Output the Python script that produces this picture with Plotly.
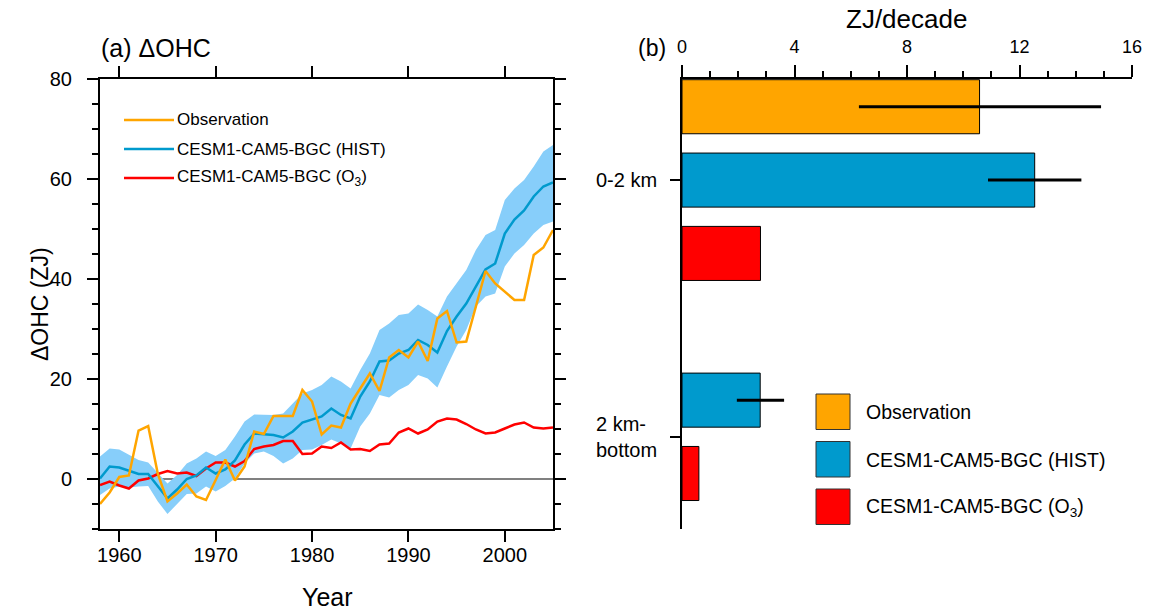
import plotly.graph_objects as go

# ---------------- data: panel (a) ----------------
years = list(range(1958, 2006))
obs_ohc = [-5.0, -2.7, 0.4, 0.7, 9.7, 10.6, 1.0, -4.5, -2.9, -1.1,
           -3.5, -4.2, -0.2, 3.9, -0.3, 2.5, 9.5, 9.0, 12.6, 12.6,
           12.6, 17.8, 15.5, 8.9, 10.7, 10.3, 15.1, 18.1, 21.1, 17.6,
           24.3, 25.8, 24.3, 27.5, 23.6, 32.1, 33.6, 27.3, 27.5, 34.5,
           41.6, 39.1, 37.5, 35.8, 35.8, 44.8, 46.3, 49.8]
hist_mean = [0.1, 2.5, 2.3, 1.7, 1.0, 1.0, -1.5, -3.9, -2.1, 0.0,
             0.7, 2.3, 1.1, 1.9, 3.7, 6.9, 9.1, 9.0, 8.8, 8.3,
             9.5, 11.3, 11.9, 12.5, 14.1, 12.8, 12.1, 16.5, 19.5, 23.5,
             23.7, 25.1, 25.8, 27.8, 26.8, 25.3, 29.6, 32.5, 35.1, 38.5,
             41.9, 43.1, 49.1, 51.9, 53.7, 56.5, 58.5, 59.3]
hist_upper = [4.5, 6.1, 5.9, 4.8, 3.8, 3.3, 1.1, -0.9, 0.8, 3.1,
              4.1, 5.5, 4.6, 5.8, 8.5, 11.5, 12.9, 12.9, 12.8, 13.1,
              15.1, 17.1, 17.8, 18.8, 20.5, 19.5, 18.1, 21.8, 25.1, 29.8,
              31.1, 32.8, 33.1, 34.9, 33.8, 32.5, 36.5, 39.1, 41.8, 45.8,
              48.8, 49.8, 55.8, 58.1, 59.8, 62.5, 65.5, 66.8]
hist_lower = [-3.2, -1.9, -1.5, -1.7, -1.5, -1.4, -4.5, -7.0, -5.0, -3.0,
              -2.9, -1.5, -2.5, -1.4, 0.1, 3.1, 5.1, 5.5, 4.6, 3.1,
              4.1, 5.8, 5.9, 6.8, 7.9, 7.1, 6.1, 10.5, 13.1, 16.8,
              16.3, 17.8, 18.8, 20.8, 20.1, 18.3, 22.5, 26.5, 29.8, 34.5,
              36.5, 37.1, 42.5, 45.1, 46.8, 49.1, 50.8, 51.5]
o3_ohc = [-1.2, -0.5, -1.3, -1.9, -0.3, 0.1, 1.0, 1.6, 1.1, 1.3,
          0.6, 2.1, 3.3, 3.3, 2.5, 3.6, 6.0, 6.5, 6.8, 7.6,
          7.6, 5.0, 5.1, 6.5, 6.2, 7.3, 5.9, 6.0, 5.6, 6.9,
          7.1, 9.3, 10.1, 9.1, 9.9, 11.5, 12.1, 11.9, 11.0, 9.9,
          9.1, 9.3, 10.1, 10.9, 11.3, 10.3, 10.1, 10.3]
year_ticks = [1960, 1970, 1980, 1990, 2000]
ohc_ticks = [0, 20, 40, 60, 80]

# ---------------- data: panel (b) ----------------
depth_groups = ["0-2 km", "2 km-<br>bottom"]
series_names = ["Observation", "CESM1-CAM5-BGC (HIST)", "CESM1-CAM5-BGC (O<sub>3</sub>)"]
trend_obs = [10.58, None]
trend_hist = [12.54, 2.78]
trend_o3 = [2.79, 0.60]
obs_lo = [6.29, None]
obs_hi = [14.90, None]
hist_lo = [10.88, 1.95]
hist_hi = [14.20, 3.63]
rate_ticks = [0, 4, 8, 12, 16]

# ---------------- styles ----------------
W, H = 1152, 612
FONT = "Liberation Sans, Arial, Helvetica, sans-serif"
C_OBS = "#FFA500"
C_HIST = "#009ACD"
C_BAND = "#87CEFA"
C_O3 = "#FF0000"
series_colors = [C_OBS, C_HIST, C_O3]


def px(x):
    return x / W


def py(y):
    return 1 - y / H


fig = go.Figure()

# ---- panel (a) ----
fig.add_trace(go.Scatter(x=years, y=hist_upper, mode="lines", line=dict(width=0, color=C_BAND),
                         showlegend=False, hoverinfo="skip", xaxis="x", yaxis="y"))
fig.add_trace(go.Scatter(x=years, y=hist_lower, mode="lines", line=dict(width=0, color=C_BAND),
                         fill="tonexty", fillcolor=C_BAND, showlegend=False, hoverinfo="skip",
                         xaxis="x", yaxis="y"))
fig.add_trace(go.Scatter(x=years, y=o3_ohc, mode="lines", line=dict(width=2.5, color=C_O3),
                         name=series_names[2], showlegend=False, xaxis="x", yaxis="y"))
fig.add_trace(go.Scatter(x=years, y=hist_mean, mode="lines", line=dict(width=2.5, color=C_HIST),
                         name=series_names[1], showlegend=False, xaxis="x", yaxis="y"))
fig.add_trace(go.Scatter(x=years, y=obs_ohc, mode="lines", line=dict(width=2.5, color=C_OBS),
                         name=series_names[0], showlegend=False, xaxis="x", yaxis="y"))

# ---- panel (b) ----
series_vals = [trend_obs, trend_hist, trend_o3]
series_lo = [obs_lo, hist_lo, None]
series_hi = [obs_hi, hist_hi, None]
n_series = len(series_vals)
group_centers = []
for g in range(len(depth_groups)):
    slots = [n_series * g + s for s in range(n_series) if series_vals[s][g] is not None]
    group_centers.append(sum(slots) / len(slots))

for s in range(n_series):
    ys, xs, plus, minus = [], [], [], []
    for g in range(len(depth_groups)):
        v = series_vals[s][g]
        if v is None:
            continue
        ys.append(n_series * g + s)
        xs.append(v)
        if series_lo[s] is not None:
            plus.append(series_hi[s][g] - v)
            minus.append(v - series_lo[s][g])
    err = None
    if series_lo[s] is not None:
        err = dict(type="data", symmetric=False, array=plus, arrayminus=minus,
                   color="black", thickness=3, width=0)
    fig.add_trace(go.Bar(x=xs, y=ys, orientation="h", width=0.737, base=0,
                         marker=dict(color=series_colors[s], line=dict(color="black", width=1)),
                         error_x=err, name=series_names[s], showlegend=False,
                         xaxis="x2", yaxis="y2"))

tickfont_a = dict(family=FONT, size=20, color="black")
tickfont_b = dict(family=FONT, size=18, color="black")

fig.update_layout(
    width=W, height=H,
    margin=dict(l=0, r=0, t=0, b=0, autoexpand=False),
    paper_bgcolor="white", plot_bgcolor="white",
    barmode="overlay",
    font=dict(family=FONT, color="black"),
    xaxis=dict(domain=[px(100), px(553)], range=[1958, 2005], tickvals=year_ticks,
               ticks="outside", ticklen=11, tickwidth=2, tickcolor="black",
               showline=True, linewidth=2, linecolor="black", mirror="ticks",
               showgrid=False, zeroline=False, tickfont=tickfont_a, anchor="y",
               ticklabelstandoff=-4, automargin=False),
    yaxis=dict(domain=[py(529), py(79)], range=[-10, 80], tickvals=ohc_ticks,
               ticks="outside", ticklen=11, tickwidth=2, tickcolor="black",
               minor=dict(dtick=5, tick0=0, ticks="outside", ticklen=6, tickwidth=1.5,
                          tickcolor="black", showgrid=False),
               showline=True, linewidth=2, linecolor="black", mirror="ticks",
               showgrid=False, zeroline=True, zerolinecolor="#808080", zerolinewidth=2,
               tickfont=tickfont_a, anchor="x", ticklabelstandoff=11, automargin=False),
    xaxis2=dict(domain=[px(682), px(1132)], range=[0, 16], tickvals=rate_ticks, side="top",
                ticks="outside", ticklen=12, tickwidth=2, tickcolor="black",
                minor=dict(dtick=1, tick0=0, ticks="outside", ticklen=6, tickwidth=1.5,
                           tickcolor="black", showgrid=False),
                showline=True, linewidth=1.5, linecolor="black",
                showgrid=False, zeroline=False, tickfont=tickfont_b, anchor="y2",
                ticklabelstandoff=5, automargin=False),
    yaxis2=dict(domain=[py(528.5), py(79)], range=[5.75, -0.378],
                tickvals=group_centers, showticklabels=False,
                ticks="outside", ticklen=10, tickwidth=1.5, tickcolor="black",
                showline=True, linewidth=1.5, linecolor="black",
                showgrid=False, zeroline=False, anchor="x2", automargin=False),
)

ann = []
ann.append(dict(x=px(99), y=py(48), xref="paper", yref="paper", xanchor="left", yanchor="middle",
                text="(a) ΔOHC", showarrow=False, font=dict(family=FONT, size=25)))
ann.append(dict(x=px(40), y=py(304), xref="paper", yref="paper", xanchor="center", yanchor="middle",
                text="ΔOHC (ZJ)", textangle=-90, showarrow=False, font=dict(family=FONT, size=23)))
ann.append(dict(x=px(327), y=py(597), xref="paper", yref="paper", xanchor="center", yanchor="middle",
                text="Year", showarrow=False, font=dict(family=FONT, size=25)))
ann.append(dict(x=px(636), y=py(48), xref="paper", yref="paper", xanchor="left", yanchor="middle",
                text="(b)", showarrow=False, font=dict(family=FONT, size=23)))
ann.append(dict(x=px(906), y=py(19), xref="paper", yref="paper", xanchor="center", yanchor="middle",
                text="ZJ/decade", showarrow=False, font=dict(family=FONT, size=26)))
# group labels for panel (b)
for g, lab in enumerate(depth_groups):
    ann.append(dict(x=px(659), y=group_centers[g], xref="paper", yref="y2",
                    xanchor="right", yanchor="middle", align="left",
                    text=lab, showarrow=False, font=dict(family=FONT, size=20)))

shapes = []
# legend for panel (a)
leg_a_y = [120, 149, 178]
for s, yy in enumerate(leg_a_y):
    shapes.append(dict(type="line", xref="paper", yref="paper", x0=px(124), x1=px(174),
                       y0=py(yy), y1=py(yy), line=dict(color=series_colors[s], width=2.5)))
    ann.append(dict(x=px(175), y=py(yy), xref="paper", yref="paper", xanchor="left", yanchor="middle",
                    text=series_names[s], showarrow=False, font=dict(family=FONT, size=17)))
# legend for panel (b)
leg_b_top = [394, 441.5, 489]
for s, yt in enumerate(leg_b_top):
    shapes.append(dict(type="rect", xref="paper", yref="paper", x0=px(816), x1=px(850),
                       y0=py(yt + 35.5), y1=py(yt), fillcolor=series_colors[s],
                       line=dict(color="#333333", width=1)))
    ann.append(dict(x=px(864), y=py(yt + 18), xref="paper", yref="paper", xanchor="left",
                    yanchor="middle", text=series_names[s], showarrow=False,
                    font=dict(family=FONT, size=19.5)))

fig.update_layout(annotations=ann, shapes=shapes)
fig.write_html("out.html", config={"displayModeBar": False},
               post_script="document.body.style.margin='0px';document.body.style.overflow='hidden';")
